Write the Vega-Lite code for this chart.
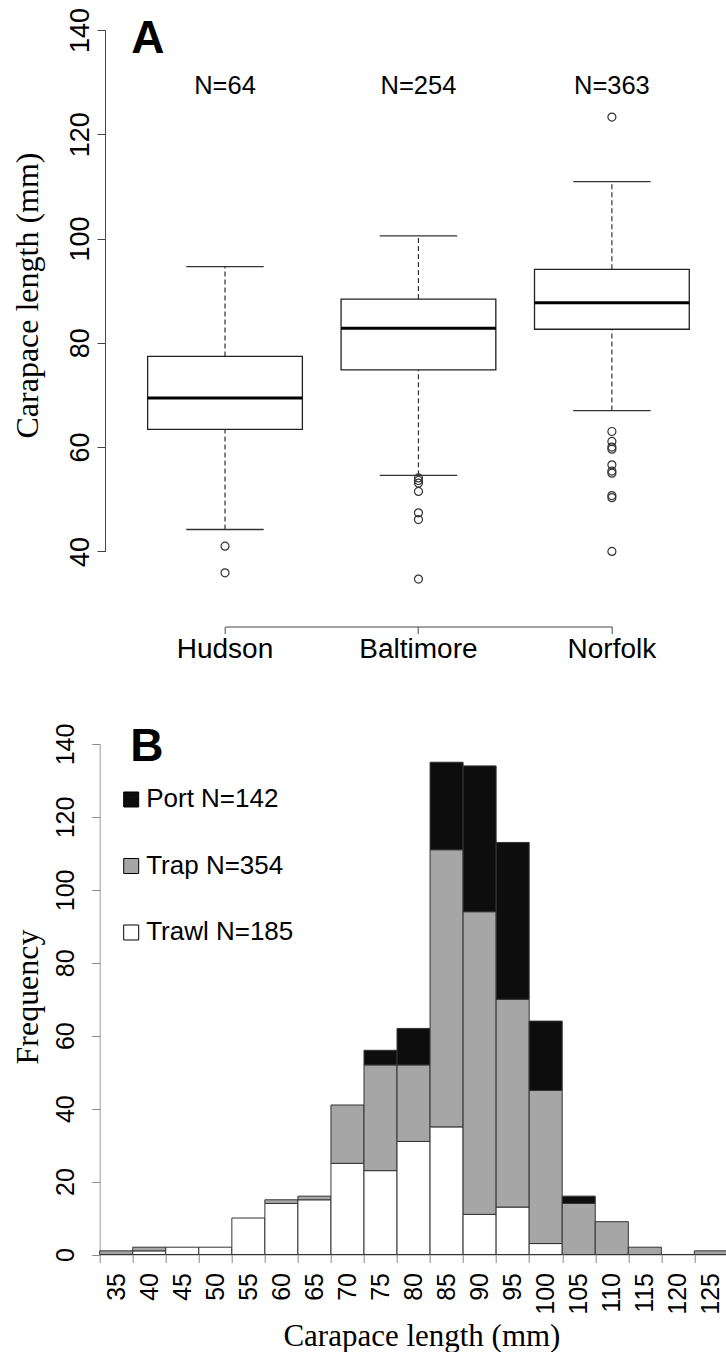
{
  "$schema": "https://vega.github.io/schema/vega-lite/v6.json",
  "autosize": {"type": "pad"},
  "padding": {"left": 10.7, "top": 7, "right": 0, "bottom": 0},
  "background": "white",
  "bounds": "flush",
  "spacing": 117,
  "config": {
    "view": {"stroke": null},
    "font": "Liberation Sans",
    "axis": {"grid": false, "labelFlush": false, "labelOverlap": false}
  },
  "datasets": {
    "boxes": [
      {"site": "Hudson", "lo": 44.2, "q1": 63.4, "med": 69.4, "q3": 77.4, "hi": 94.6, "nlabel": "N=64"},
      {"site": "Baltimore", "lo": 54.6, "q1": 74.8, "med": 82.8, "q3": 88.4, "hi": 100.5, "nlabel": "N=254"},
      {"site": "Norfolk", "lo": 67.0, "q1": 82.6, "med": 87.7, "q3": 94.1, "hi": 110.9, "nlabel": "N=363"}
    ],
    "outliers": [
      {"site": "Hudson", "v": 41.0},
      {"site": "Hudson", "v": 35.9},
      {"site": "Baltimore", "v": 54.1},
      {"site": "Baltimore", "v": 53.6},
      {"site": "Baltimore", "v": 53.1},
      {"site": "Baltimore", "v": 51.5},
      {"site": "Baltimore", "v": 47.4},
      {"site": "Baltimore", "v": 46.1},
      {"site": "Baltimore", "v": 34.7},
      {"site": "Norfolk", "v": 123.3},
      {"site": "Norfolk", "v": 63.0},
      {"site": "Norfolk", "v": 61.1},
      {"site": "Norfolk", "v": 60.0},
      {"site": "Norfolk", "v": 59.6},
      {"site": "Norfolk", "v": 56.6},
      {"site": "Norfolk", "v": 55.4},
      {"site": "Norfolk", "v": 55.0},
      {"site": "Norfolk", "v": 50.7},
      {"site": "Norfolk", "v": 50.3},
      {"site": "Norfolk", "v": 40.0}
    ],
    "hist": [
      {"bin": 35, "gear": "Trap", "n": 1},
      {"bin": 40, "gear": "Trawl", "n": 1},
      {"bin": 40, "gear": "Trap", "n": 1},
      {"bin": 45, "gear": "Trawl", "n": 2},
      {"bin": 50, "gear": "Trawl", "n": 2},
      {"bin": 55, "gear": "Trawl", "n": 10},
      {"bin": 60, "gear": "Trawl", "n": 14},
      {"bin": 60, "gear": "Trap", "n": 1},
      {"bin": 65, "gear": "Trawl", "n": 15},
      {"bin": 65, "gear": "Trap", "n": 1},
      {"bin": 70, "gear": "Trawl", "n": 25},
      {"bin": 70, "gear": "Trap", "n": 16},
      {"bin": 75, "gear": "Trawl", "n": 23},
      {"bin": 75, "gear": "Trap", "n": 29},
      {"bin": 75, "gear": "Port", "n": 4},
      {"bin": 80, "gear": "Trawl", "n": 31},
      {"bin": 80, "gear": "Trap", "n": 21},
      {"bin": 80, "gear": "Port", "n": 10},
      {"bin": 85, "gear": "Trawl", "n": 35},
      {"bin": 85, "gear": "Trap", "n": 76},
      {"bin": 85, "gear": "Port", "n": 24},
      {"bin": 90, "gear": "Trawl", "n": 11},
      {"bin": 90, "gear": "Trap", "n": 83},
      {"bin": 90, "gear": "Port", "n": 40},
      {"bin": 95, "gear": "Trawl", "n": 13},
      {"bin": 95, "gear": "Trap", "n": 57},
      {"bin": 95, "gear": "Port", "n": 43},
      {"bin": 100, "gear": "Trawl", "n": 3},
      {"bin": 100, "gear": "Trap", "n": 42},
      {"bin": 100, "gear": "Port", "n": 19},
      {"bin": 105, "gear": "Trap", "n": 14},
      {"bin": 105, "gear": "Port", "n": 2},
      {"bin": 110, "gear": "Trap", "n": 9},
      {"bin": 115, "gear": "Trap", "n": 2},
      {"bin": 120, "gear": "Trap", "n": 0},
      {"bin": 125, "gear": "Trap", "n": 1}
    ]
  },
  "vconcat": [
    {
      "width": 627.7,
      "height": 619.5,
      "title": {"text": "A", "anchor": "start", "frame": "group", "orient": "top", "offset": -91.6, "dx": 31.5, "fontSize": 46, "fontWeight": "bold", "font": "Liberation Sans", "color": "#000", "baseline": "alphabetic"},
      "encoding": {
        "x": {
          "field": "site", "type": "nominal", "sort": ["Hudson", "Baltimore", "Norfolk"],
          "scale": {"paddingInner": 0.2, "paddingOuter": 0.2224, "align": 0.557, "round": false},
          "axis": {"title": null, "labelAngle": 0, "tickSize": 7, "tickColor": "#444", "tickWidth": 1, "domainColor": "#444", "domainWidth": 1, "domainDash": [0, 125.3, 386.9, 300], "labelFontSize": 28, "labelFont": "Liberation Sans", "labelColor": "#000", "labelPadding": 2, "labelBaseline": "top"}
        }
      },
      "layer": [
        {
          "data": {"name": "boxes"},
          "mark": {"type": "rule", "strokeDash": [5, 3], "color": "#333", "strokeWidth": 1.2},
          "encoding": {
            "y": {"field": "lo", "type": "quantitative", "scale": {"domain": [25.6, 144.4], "nice": false, "zero": false},
              "axis": {"values": [40, 60, 80, 100, 120, 140], "tickSize": 8, "tickColor": "#444", "tickWidth": 1, "domainColor": "#444", "domainWidth": 1, "domainDash": [0, 75.09, 521.46, 100], "offset": -5.3, "labelAngle": -90, "labelAlign": "center", "labelBaseline": "alphabetic", "labelFontSize": 27, "labelFont": "Liberation Sans", "labelColor": "#000", "labelPadding": 8.3, "title": "Carapace length (mm)", "titleFont": "Liberation Serif", "titleFontSize": 32, "titleFontWeight": "normal", "titleColor": "#000", "titleAngle": -90, "titleX": -67.6, "titleY": 288, "titleAlign": "center", "titleBaseline": "alphabetic"}},
            "y2": {"field": "q1"}
          }
        },
        {
          "data": {"name": "boxes"},
          "mark": {"type": "rule", "strokeDash": [5, 3], "color": "#333", "strokeWidth": 1.2},
          "encoding": {
            "y": {"field": "q3", "type": "quantitative", "title": "Carapace length (mm)", "scale": {"domain": [25.6, 144.4], "nice": false, "zero": false}},
            "y2": {"field": "hi"}
          }
        },
        {
          "data": {"name": "boxes"},
          "mark": {"type": "tick", "orient": "horizontal", "size": 77.4, "thickness": 1.3, "color": "#333", "opacity": 1},
          "encoding": {
            "y": {"field": "lo", "type": "quantitative", "title": "Carapace length (mm)", "scale": {"domain": [25.6, 144.4], "nice": false, "zero": false}}
          }
        },
        {
          "data": {"name": "boxes"},
          "mark": {"type": "tick", "orient": "horizontal", "size": 77.4, "thickness": 1.3, "color": "#333", "opacity": 1},
          "encoding": {
            "y": {"field": "hi", "type": "quantitative", "title": "Carapace length (mm)", "scale": {"domain": [25.6, 144.4], "nice": false, "zero": false}}
          }
        },
        {
          "data": {"name": "boxes"},
          "mark": {"type": "bar", "fill": "white", "stroke": "#222", "strokeWidth": 1.3},
          "encoding": {
            "y": {"field": "q1", "type": "quantitative", "title": "Carapace length (mm)", "scale": {"domain": [25.6, 144.4], "nice": false, "zero": false}},
            "y2": {"field": "q3"}
          }
        },
        {
          "data": {"name": "boxes"},
          "mark": {"type": "tick", "orient": "horizontal", "size": 154.8, "thickness": 3, "color": "#000", "opacity": 1},
          "encoding": {
            "y": {"field": "med", "type": "quantitative", "title": "Carapace length (mm)", "scale": {"domain": [25.6, 144.4], "nice": false, "zero": false}}
          }
        },
        {
          "data": {"name": "outliers"},
          "mark": {"type": "point", "shape": "circle", "filled": false, "size": 64, "strokeWidth": 1.2, "color": "#333", "opacity": 1},
          "encoding": {
            "y": {"field": "v", "type": "quantitative", "title": "Carapace length (mm)", "scale": {"domain": [25.6, 144.4], "nice": false, "zero": false}}
          }
        },
        {
          "data": {"name": "boxes"},
          "mark": {"type": "text", "fontSize": 25.5, "font": "Liberation Sans", "color": "#000", "baseline": "alphabetic", "align": "center"},
          "encoding": {
            "y": {"datum": 127.7, "type": "quantitative", "title": "Carapace length (mm)", "scale": {"domain": [25.6, 144.4], "nice": false, "zero": false}},
            "text": {"field": "nlabel"}
          }
        }
      ]
    },
    {
      "width": 627.7,
      "height": 510.5,
      "title": {"text": "B", "anchor": "start", "frame": "group", "orient": "top", "offset": -84, "dx": 30.5, "fontSize": 46, "fontWeight": "bold", "font": "Liberation Sans", "color": "#000", "baseline": "alphabetic"},
      "data": {"name": "hist"},
      "mark": {"type": "bar", "stroke": "#333", "strokeWidth": 1},
      "encoding": {
        "x": {
          "field": "bin", "type": "ordinal",
          "scale": {"paddingInner": 0, "paddingOuter": 0, "round": false},
          "axis": {"tickBand": "extent", "tickSize": 8, "tickColor": "#888", "tickWidth": 1, "domainColor": "#999", "domainWidth": 1, "labelAngle": -90, "labelAlign": "right", "labelBaseline": "middle", "labelFontSize": 25, "labelFont": "Liberation Sans", "labelColor": "#000", "labelPadding": 10, "title": "Carapace length (mm)", "titleFont": "Liberation Serif", "titleFontSize": 31, "titleFontWeight": "normal", "titleColor": "#000", "titleX": 321.7, "titleY": 91.5, "titleAlign": "center", "titleBaseline": "alphabetic"}
        },
        "y": {
          "field": "n", "type": "quantitative", "stack": "zero",
          "scale": {"domain": [0, 140], "nice": false},
          "axis": {"values": [0, 20, 40, 60, 80, 100, 120, 140], "tickSize": 8, "tickColor": "#888", "tickWidth": 1, "domainColor": "#999", "domainWidth": 1, "labelAngle": -90, "labelAlign": "center", "labelBaseline": "alphabetic", "labelFontSize": 25, "labelFont": "Liberation Sans", "labelColor": "#000", "labelPadding": 18.3, "title": "Frequency", "titleFont": "Liberation Serif", "titleFontSize": 32, "titleFontWeight": "normal", "titleColor": "#000", "titleAngle": -90, "titleX": -62.3, "titleY": 252.5, "titleAlign": "center", "titleBaseline": "alphabetic"}
        },
        "color": {
          "field": "gear", "type": "nominal",
          "scale": {"domain": ["Port", "Trap", "Trawl"], "range": ["#0d0d0d", "#a6a6a6", "#ffffff"]},
          "legend": {"orient": "none", "legendX": 18.5, "legendY": 779.5, "title": null, "symbolType": "square", "symbolSize": 225, "symbolStrokeColor": "#000", "symbolStrokeWidth": 1, "labelFontSize": 26, "labelFont": "Liberation Sans", "labelColor": "#000", "labelOffset": 2, "rowPadding": 40.5, "padding": 0, "labelLimit": 300,
            "labelExpr": "datum.label == 'Port' ? 'Port N=142' : datum.label == 'Trap' ? 'Trap N=354' : 'Trawl N=185'"}
        },
        "order": {"field": "gear", "sort": "descending"}
      }
    }
  ]
}
